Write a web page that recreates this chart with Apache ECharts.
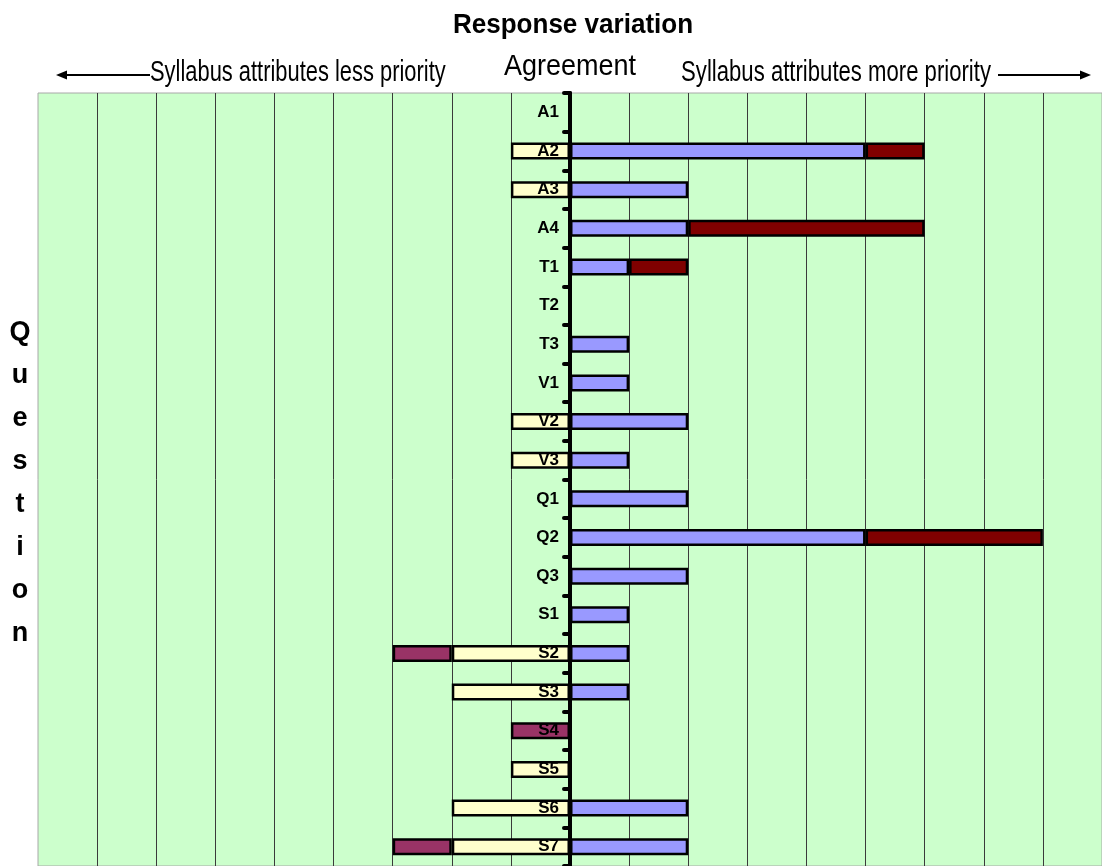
<!DOCTYPE html>
<html>
<head>
<meta charset="utf-8">
<script src="https://cdn.jsdelivr.net/npm/echarts@6/dist/echarts.min.js"></script>
<style>
html,body{margin:0;padding:0;background:#fff;}
#chart{width:1102px;height:866px;}
</style>
</head>
<body>
<div id="chart"></div>
<script>
var categories = ['A1','A2','A3','A4','T1','T2','T3','V1','V2','V3','Q1','Q2','Q3','S1','S2','S3','S4','S5','S6','S7'];
var moreLow  = [null,5,2,2,1,null,1,1,2,1,2,5,2,1,1,1,null,null,2,2];
var moreHigh = [null,1,null,4,1,null,null,null,null,null,null,3,null,null,null,null,null,null,null,null];
var lessLow  = [null,-1,-1,null,null,null,null,null,-1,-1,null,null,null,null,-2,-2,null,-1,-2,-2];
var lessHigh = [null,null,null,null,null,null,null,null,null,null,null,null,null,null,-1,null,-1,null,null,-1];
var xTicks = {min:-9, max:9, interval:1};

var FONT = '"Liberation Sans",Arial,sans-serif';
var GRID_LEFT = 38, GRID_RIGHT = 0, CHART_W = 1102;
var plotW = CHART_W - GRID_LEFT - GRID_RIGHT;
// shift the category axis to the value 0 of the x axis
var zeroOffset = plotW * (0 - xTicks.min) / (xTicks.max - xTicks.min);

var chart = echarts.init(document.getElementById('chart'), null, {renderer:'canvas'});

function barSeries(name, data, color){
  return {
    name: name, type: 'bar', stack: 'total', data: data,
    barWidth: 17,
    itemStyle: {color: color, borderColor: '#000', borderWidth: 2.5},
    emphasis: {disabled: true},
    z: 2
  };
}

chart.setOption({
  animation: false,
  backgroundColor: '#ffffff',
  grid: {left: GRID_LEFT, right: GRID_RIGHT, top: 93, bottom: 0, show: true, backgroundColor: '#CCFFCC', borderColor: '#a8a8a8', borderWidth: 1},
  xAxis: {
    type: 'value', min: xTicks.min, max: xTicks.max, interval: xTicks.interval,
    axisLabel: {show: false}, axisLine: {show: false}, axisTick: {show: false},
    splitLine: {show: true, showMinLine: false, lineStyle: {color: '#3a3a3a', width: 1}}
  },
  yAxis: {
    type: 'category', data: categories, inverse: true, z: 10,
    position: 'left', offset: -zeroOffset,
    axisLine: {show: true, onZero: false, lineStyle: {color: '#000', width: 4}},
    axisTick: {show: true, length: 6, lineStyle: {color: '#000', width: 4, cap: 'round'}},
    axisLabel: {show: true, margin: 11, color: '#000', fontFamily: FONT, fontWeight: 'bold', fontSize: 17},
    splitLine: {show: false}
  },
  series: [
    barSeries('More priority (1)', moreLow, '#9999FF'),
    barSeries('More priority (2)', moreHigh, '#800000'),
    barSeries('Less priority (1)', lessLow, '#FFFFCC'),
    barSeries('Less priority (2)', lessHigh, '#993366')
  ],
  graphic: [
    {type:'text', x: 573, y: 25, scaleX: 0.93, style:{text:'Response variation', font:'bold 28px ' + FONT, fill:'#000', textAlign:'center', textVerticalAlign:'middle'}},
    {type:'text', x: 570, y: 67, scaleX: 0.9, style:{text:'Agreement', font:'30px ' + FONT, fill:'#000', textAlign:'center', textVerticalAlign:'middle'}},
    {type:'text', x: 150, y: 73, scaleX: 0.755, style:{text:'Syllabus attributes less priority', font:'29px ' + FONT, fill:'#000', textAlign:'left', textVerticalAlign:'middle'}},
    {type:'text', x: 991, y: 73, scaleX: 0.763, style:{text:'Syllabus attributes more priority', font:'29px ' + FONT, fill:'#000', textAlign:'right', textVerticalAlign:'middle'}},
    {type:'line', shape:{x1:64, y1:75, x2:150, y2:75}, style:{stroke:'#000', lineWidth:2}},
    {type:'polygon', shape:{points:[[56,75],[67,70.5],[67,79.5]]}, style:{fill:'#000'}},
    {type:'line', shape:{x1:998, y1:75, x2:1082, y2:75}, style:{stroke:'#000', lineWidth:2}},
    {type:'polygon', shape:{points:[[1091,75],[1080,70.5],[1080,79.5]]}, style:{fill:'#000'}},
    {type:'text', x: 20, y: 311, style:{text:'Q\nu\ne\ns\nt\ni\no\nn', font:'bold 27px ' + FONT, lineHeight: 43, fill:'#000', textAlign:'center', textVerticalAlign:'top'}}
  ]
});
</script>
</body>
</html>
